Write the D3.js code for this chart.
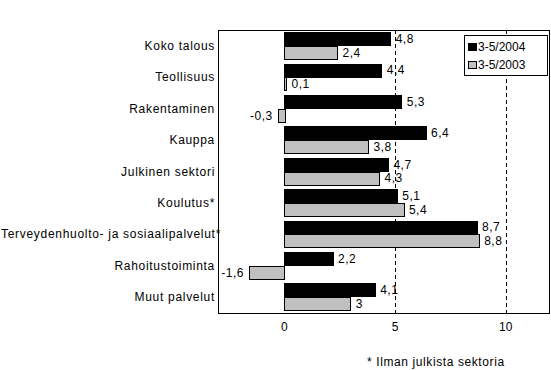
<!DOCTYPE html>
<html>
<head>
<meta charset="utf-8">
<script src="https://cdn.jsdelivr.net/npm/d3@7"></script>
<style>
  body { margin: 0; background: #fff; }
  svg { display: block; font-family: "Liberation Sans", Arial, sans-serif; font-size: 12px; }
</style>
</head>
<body>
<div id="chart"></div>
<script>
const categories = [
  'Koko talous',
  'Teollisuus',
  'Rakentaminen',
  'Kauppa',
  'Julkinen sektori',
  'Koulutus*',
  'Terveydenhuolto- ja sosiaalipalvelut*',
  'Rahoitustoiminta',
  'Muut palvelut',
];
const values2004 = [4.8, 4.4, 5.3, 6.4, 4.7, 5.1, 8.7, 2.2, 4.1];
const values2003 = [2.4, 0.1, -0.3, 3.8, 4.3, 5.4, 8.8, -1.6, 3];
const seriesNames = ['3-5/2004', '3-5/2003'];
const seriesColors = ['#000000', '#c0c0c0'];
const xTicks = [0, 5, 10];
const footnote = '* Ilman julkista sektoria';

const W = 551, H = 370;
const plot = { left: 218, right: 550, top: 30, bottom: 313 };

const fmt = (v) => String(v).replace('.', ',');

const svg = d3.select('#chart').append('svg')
  .attr('width', W)
  .attr('height', H);

const x = d3.scaleLinear().domain([-3, 12]).range([plot.left, plot.right]);
const y = d3.scaleBand().domain(categories).range([plot.top, plot.bottom]).paddingInner(0.13).paddingOuter(0.07);
const ySub = d3.scaleBand().domain(seriesNames).range([0, y.bandwidth()]);

// frame
svg.append('rect')
  .attr('x', plot.left + 0.5)
  .attr('y', plot.top + 0.5)
  .attr('width', plot.right - plot.left - 1)
  .attr('height', plot.bottom - plot.top)
  .attr('fill', 'none')
  .attr('stroke', '#000');

// dashed gridlines
svg.append('g')
  .selectAll('line')
  .data(xTicks.filter((d) => d !== 0))
  .join('line')
  .attr('x1', (d) => Math.round(x(d)) + 0.5)
  .attr('x2', (d) => Math.round(x(d)) + 0.5)
  .attr('y1', plot.top)
  .attr('y2', plot.bottom)
  .attr('stroke', '#000')
  .attr('stroke-dasharray', '4,3');

// x axis labels
svg.append('g')
  .selectAll('text')
  .data(xTicks)
  .join('text')
  .attr('x', (d) => x(d))
  .attr('y', 331)
  .attr('text-anchor', 'middle')
  .text((d) => d);

// category labels (long one may run over the frame, like the original)
svg.append('g')
  .selectAll('text')
  .data(categories)
  .join('text')
  .attr('x', 215)
  .attr('y', (d) => y(d) + y.bandwidth() / 2 + 4)
  .attr('text-anchor', 'end')
  .attr('letter-spacing', '0.7px')
  .text((d) => d)
  .each(function () {
    const len = this.getComputedTextLength();
    if (215 - len < 1) {
      d3.select(this).attr('text-anchor', 'start').attr('x', 1);
    }
  });

// bars
const rows = categories.flatMap((c, i) => [
  { cat: c, series: seriesNames[0], value: values2004[i], color: seriesColors[0] },
  { cat: c, series: seriesNames[1], value: values2003[i], color: seriesColors[1] },
]);

const bars = svg.append('g');
bars.selectAll('rect')
  .data(rows)
  .join('rect')
  .attr('x', (d) => Math.round(x(Math.min(0, d.value))) + 0.5)
  .attr('y', (d) => Math.round(y(d.cat) + ySub(d.series)) + 0.5)
  .attr('width', (d) => Math.max(1, Math.round(Math.abs(x(d.value) - x(0)))))
  .attr('height', Math.round(ySub.bandwidth()) - 1)
  .attr('fill', (d) => d.color)
  .attr('stroke', '#000');

// value labels
svg.append('g')
  .selectAll('text')
  .data(rows)
  .join('text')
  .attr('x', (d) => (d.value < 0 ? x(d.value) - 5 : x(d.value) + 5))
  .attr('y', (d) => y(d.cat) + ySub(d.series) + ySub.bandwidth() / 2 + 4)
  .attr('text-anchor', (d) => (d.value < 0 ? 'end' : 'start'))
  .attr('letter-spacing', '0.5px')
  .text((d) => fmt(d.value));

// legend
const legend = svg.append('g').attr('transform', 'translate(464,35)');
legend.append('rect')
  .attr('x', 0.5).attr('y', 0.5)
  .attr('width', 83).attr('height', 40)
  .attr('fill', '#fff').attr('stroke', '#000');
seriesNames.forEach((name, i) => {
  legend.append('rect')
    .attr('x', 4.5).attr('y', 8.5 + i * 18)
    .attr('width', 8).attr('height', 7)
    .attr('fill', seriesColors[i]).attr('stroke', '#000');
  legend.append('text')
    .attr('x', 14).attr('y', 16 + i * 18)
    .text(name);
});

// footnote
svg.append('text')
  .attr('x', 367)
  .attr('y', 366)
  .attr('letter-spacing', '0.6px')
  .text(footnote);
</script>
</body>
</html>
